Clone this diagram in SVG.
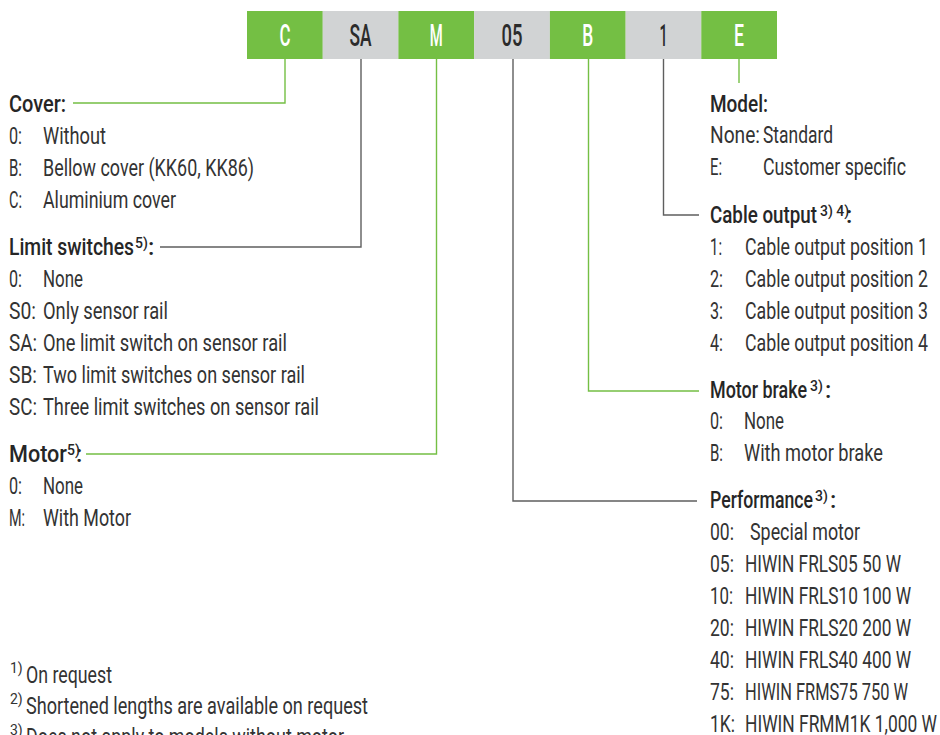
<svg xmlns="http://www.w3.org/2000/svg" width="940" height="735" viewBox="0 0 940 735">
<style>
text{font-family:Roboto,"Liberation Sans",sans-serif;font-size:24px;fill:#333333}
.h{font-weight:500;fill:#262626}
.s{font-size:14px}
.bl{font-size:31px;font-weight:500;text-anchor:middle}
.w{fill:#ffffff}
.d{fill:#2b2b2b}
.g{fill:#74bf44}
.k{fill:#d1d3d4}
.lg{fill:none;stroke:#74bf44;stroke-width:1.4}
.lk{fill:none;stroke:#5f5f5f;stroke-width:1.4}
</style>
<rect width="940" height="735" fill="#ffffff"/>
<g id="code-boxes">
<g id="box-C"><rect class="g" x="247" y="11" width="75.8" height="48"/><text class="bl w" x="285" y="46" textLength="11" lengthAdjust="spacingAndGlyphs">C</text></g>
<g id="box-SA"><rect class="k" x="322.7" y="11" width="75.8" height="48"/><text class="bl d" x="360.6" y="46" textLength="22" lengthAdjust="spacingAndGlyphs">SA</text></g>
<g id="box-M"><rect class="g" x="398.4" y="11" width="75.8" height="48"/><text class="bl w" x="436.3" y="46" textLength="13" lengthAdjust="spacingAndGlyphs">M</text></g>
<g id="box-05"><rect class="k" x="474.1" y="11" width="75.8" height="48"/><text class="bl d" x="512" y="46" textLength="21" lengthAdjust="spacingAndGlyphs">05</text></g>
<g id="box-B"><rect class="g" x="549.9" y="11" width="75.8" height="48"/><text class="bl w" x="587.7" y="46" textLength="11" lengthAdjust="spacingAndGlyphs">B</text></g>
<g id="box-1"><rect class="k" x="625.6" y="11" width="75.8" height="48"/><text class="bl d" x="663.4" y="46" textLength="8" lengthAdjust="spacingAndGlyphs">1</text></g>
<g id="box-E"><rect class="g" x="701.3" y="11" width="75.7" height="48"/><text class="bl w" x="739.1" y="46" textLength="10" lengthAdjust="spacingAndGlyphs">E</text></g>
</g>
<g id="connectors">
<path class="lg" d="M285 59 V103 H73"/>
<path class="lk" d="M361 59 V247 H160"/>
<path class="lg" d="M436.5 59 V454 H86"/>
<path class="lk" d="M513 59 V501 H697"/>
<path class="lg" d="M588.5 59 V391 H699"/>
<path class="lk" d="M663.5 59 V215 H699"/>
<path class="lg" d="M739 59 V83"/>
</g>
<g id="cover">
<text class="h" x="9" y="112" textLength="57" lengthAdjust="spacingAndGlyphs">Cover:</text>
<text x="9" y="144" textLength="13" lengthAdjust="spacingAndGlyphs">0:</text><text x="43" y="144" textLength="63" lengthAdjust="spacingAndGlyphs">Without</text>
<text x="9" y="176" textLength="13" lengthAdjust="spacingAndGlyphs">B:</text><text x="43" y="176" textLength="211" lengthAdjust="spacingAndGlyphs">Bellow cover (KK60, KK86)</text>
<text x="9" y="208" textLength="13" lengthAdjust="spacingAndGlyphs">C:</text><text x="43" y="208" textLength="133" lengthAdjust="spacingAndGlyphs">Aluminium cover</text>
</g>
<g id="limit-switches">
<text class="h" x="9" y="255" textLength="125" lengthAdjust="spacingAndGlyphs">Limit switches</text>
<text class="h" x="135" y="255"><tspan class="s" dy="-7">5)</tspan><tspan x="148" dy="7">:</tspan></text>
<text x="9" y="287" textLength="13" lengthAdjust="spacingAndGlyphs">0:</text><text x="43" y="287" textLength="40" lengthAdjust="spacingAndGlyphs">None</text>
<text x="9" y="319" textLength="27" lengthAdjust="spacingAndGlyphs">S0:</text><text x="43" y="319" textLength="125" lengthAdjust="spacingAndGlyphs">Only sensor rail</text>
<text x="9" y="351" textLength="28" lengthAdjust="spacingAndGlyphs">SA:</text><text x="43" y="351" textLength="244" lengthAdjust="spacingAndGlyphs">One limit switch on sensor rail</text>
<text x="9" y="383" textLength="28" lengthAdjust="spacingAndGlyphs">SB:</text><text x="43" y="383" textLength="262" lengthAdjust="spacingAndGlyphs">Two limit switches on sensor rail</text>
<text x="9" y="415" textLength="28" lengthAdjust="spacingAndGlyphs">SC:</text><text x="43" y="415" textLength="276" lengthAdjust="spacingAndGlyphs">Three limit switches on sensor rail</text>
</g>
<g id="motor">
<text class="h" x="9" y="462" textLength="58" lengthAdjust="spacingAndGlyphs">Motor</text>
<text class="h" x="67" y="462"><tspan class="s" dy="-7">5)</tspan><tspan x="76" dy="7">:</tspan></text>
<text x="9" y="494" textLength="13" lengthAdjust="spacingAndGlyphs">0:</text><text x="43" y="494" textLength="40" lengthAdjust="spacingAndGlyphs">None</text>
<text x="9" y="526" textLength="16" lengthAdjust="spacingAndGlyphs">M:</text><text x="43" y="526" textLength="88" lengthAdjust="spacingAndGlyphs">With Motor</text>
</g>
<g id="footnotes">
<text x="10" y="683"><tspan class="s" dy="-10">1)</tspan><tspan x="26" dy="10" textLength="86" lengthAdjust="spacingAndGlyphs">On request</tspan></text>
<text x="10" y="714"><tspan class="s" dy="-10">2)</tspan><tspan x="26" dy="10" textLength="342" lengthAdjust="spacingAndGlyphs">Shortened lengths are available on request</tspan></text>
<text x="10" y="745"><tspan class="s" dy="-10">3)</tspan><tspan x="26" dy="10" textLength="318" lengthAdjust="spacingAndGlyphs">Does not apply to models without motor</tspan></text>
</g>
<g id="model">
<text class="h" x="710" y="112" textLength="58" lengthAdjust="spacingAndGlyphs">Model:</text>
<text x="710" y="143" textLength="50" lengthAdjust="spacingAndGlyphs">None:</text><text x="763" y="143" textLength="70" lengthAdjust="spacingAndGlyphs">Standard</text>
<text x="710" y="175" textLength="12" lengthAdjust="spacingAndGlyphs">E:</text><text x="763" y="175" textLength="143" lengthAdjust="spacingAndGlyphs">Customer specific</text>
</g>
<g id="cable-output">
<text class="h" x="710" y="223" textLength="107" lengthAdjust="spacingAndGlyphs">Cable output</text>
<text class="h" x="820" y="223"><tspan class="s" dy="-7">3) 4)</tspan><tspan x="846" dy="7">:</tspan></text>
<text x="710" y="255" textLength="12" lengthAdjust="spacingAndGlyphs">1:</text><text x="745" y="255" textLength="183" lengthAdjust="spacingAndGlyphs">Cable output position 1</text>
<text x="710" y="287" textLength="13" lengthAdjust="spacingAndGlyphs">2:</text><text x="745" y="287" textLength="183" lengthAdjust="spacingAndGlyphs">Cable output position 2</text>
<text x="710" y="319" textLength="13" lengthAdjust="spacingAndGlyphs">3:</text><text x="745" y="319" textLength="183" lengthAdjust="spacingAndGlyphs">Cable output position 3</text>
<text x="710" y="351" textLength="13" lengthAdjust="spacingAndGlyphs">4:</text><text x="745" y="351" textLength="183" lengthAdjust="spacingAndGlyphs">Cable output position 4</text>
</g>
<g id="motor-brake">
<text class="h" x="710" y="398" textLength="97" lengthAdjust="spacingAndGlyphs">Motor brake</text>
<text class="h" x="810" y="398"><tspan class="s" dy="-7">3)</tspan><tspan x="825" dy="7">:</tspan></text>
<text x="710" y="429" textLength="13" lengthAdjust="spacingAndGlyphs">0:</text><text x="744" y="429" textLength="40" lengthAdjust="spacingAndGlyphs">None</text>
<text x="710" y="461" textLength="13" lengthAdjust="spacingAndGlyphs">B:</text><text x="744" y="461" textLength="139" lengthAdjust="spacingAndGlyphs">With motor brake</text>
</g>
<g id="performance">
<text class="h" x="710" y="508" textLength="103" lengthAdjust="spacingAndGlyphs">Performance</text>
<text class="h" x="815" y="508"><tspan class="s" dy="-7">3)</tspan><tspan x="830" dy="7">:</tspan></text>
<text x="710" y="540" textLength="24" lengthAdjust="spacingAndGlyphs">00:</text><text x="750" y="540" textLength="110" lengthAdjust="spacingAndGlyphs">Special motor</text>
<text x="710" y="572" textLength="24" lengthAdjust="spacingAndGlyphs">05:</text><text x="745" y="572" textLength="156" lengthAdjust="spacingAndGlyphs">HIWIN FRLS05 50 W</text>
<text x="710" y="604" textLength="23" lengthAdjust="spacingAndGlyphs">10:</text><text x="745" y="604" textLength="166" lengthAdjust="spacingAndGlyphs">HIWIN FRLS10 100 W</text>
<text x="710" y="636" textLength="24" lengthAdjust="spacingAndGlyphs">20:</text><text x="745" y="636" textLength="166" lengthAdjust="spacingAndGlyphs">HIWIN FRLS20 200 W</text>
<text x="710" y="668" textLength="24" lengthAdjust="spacingAndGlyphs">40:</text><text x="745" y="668" textLength="166" lengthAdjust="spacingAndGlyphs">HIWIN FRLS40 400 W</text>
<text x="710" y="700" textLength="24" lengthAdjust="spacingAndGlyphs">75:</text><text x="745" y="700" textLength="163" lengthAdjust="spacingAndGlyphs">HIWIN FRMS75 750 W</text>
<text x="710" y="732" textLength="25" lengthAdjust="spacingAndGlyphs">1K:</text><text x="745" y="732" textLength="192" lengthAdjust="spacingAndGlyphs">HIWIN FRMM1K 1,000 W</text>
</g>
</svg>
